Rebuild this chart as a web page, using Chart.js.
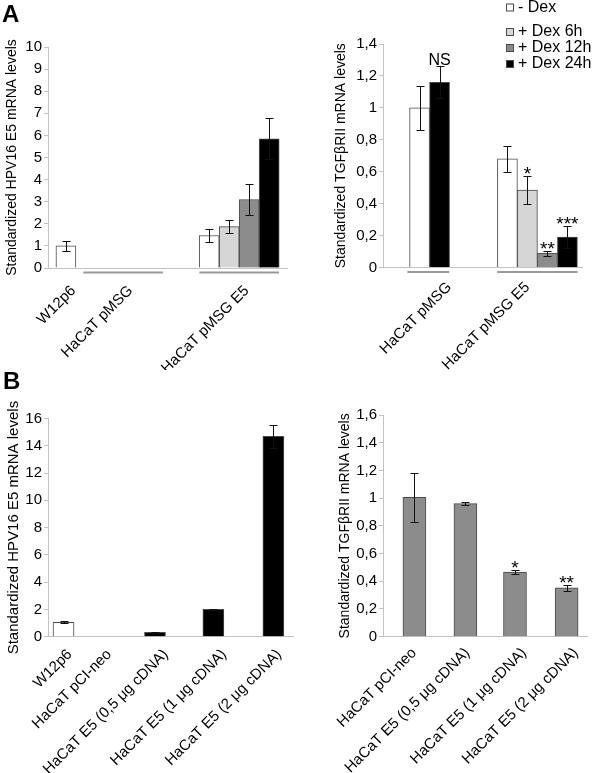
<!DOCTYPE html>
<html lang="en">
<head>
<meta charset="UTF-8">
<title>HPV16 E5 and TGFβRII mRNA levels</title>
<script src="https://cdn.jsdelivr.net/npm/chart.js@4.4.0/dist/chart.umd.min.js"></script>
<style>
  body { margin: 0; background: #fff; }
  #page { position: relative; width: 600px; height: 773px; overflow: hidden; font-family: 'Liberation Sans', Arial, sans-serif; }
  canvas { position: absolute; }
  .letter { position: absolute; font-weight: bold; font-size: 24px; line-height: 24px; }
</style>
</head>
<body>
<div id="page">
  <canvas id="aE5" style="left:0;top:0" width="300" height="370"></canvas>
  <canvas id="aTgf" style="left:300px;top:0" width="300" height="370"></canvas>
  <canvas id="bE5" style="left:0;top:370px" width="300" height="403"></canvas>
  <canvas id="bTgf" style="left:300px;top:370px" width="300" height="403"></canvas>
  <div class="letter" style="left:2px;top:2px">A</div>
  <div class="letter" style="left:3px;top:369px">B</div>
</div>
<script>
// ---- panel A : Dex time course ----
const dexLabels = ['- Dex', '+ Dex 6h', '+ Dex 12h', '+ Dex 24h'];

const aE5Cats = ['W12p6', 'HaCaT pMSG', 'HaCaT pMSG E5'];
const aE5NoDex = [1.0, 0, 1.47];
const aE5Dex6h = [null, null, 1.87];
const aE5Dex12h = [null, null, 3.1];
const aE5Dex24h = [null, 0, 5.85];
const aE5NoDexErr = [0.21, null, 0.3];
const aE5Dex6hErr = [null, null, 0.28];
const aE5Dex12hErr = [null, null, 0.7];
const aE5Dex24hErr = [null, null, 0.92];
const aE5YTicks = [0, 1, 2, 3, 4, 5, 6, 7, 8, 9, 10];

const aTgfCats = ['HaCaT pMSG', 'HaCaT pMSG E5'];
const aTgfNoDex = [1.0, 0.68];
const aTgfDex6h = [null, 0.485];
const aTgfDex12h = [null, 0.09];
const aTgfDex24h = [1.16, 0.19];
const aTgfNoDexErr = [0.14, 0.08];
const aTgfDex6hErr = [null, 0.09];
const aTgfDex12hErr = [null, 0.015];
const aTgfDex24hErr = [0.1, 0.07];
const aTgfDex6hSig = [null, '*'];
const aTgfDex12hSig = [null, '**'];
const aTgfDex24hSig = ['NS', '***'];
const aTgfYTicks = [0, 0.2, 0.4, 0.6, 0.8, 1, 1.2, 1.4];

// ---- panel B : cDNA dose ----
const bE5Cats = ['W12p6', 'HaCaT pCI-neo', 'HaCaT E5 (0,5 μg cDNA)', 'HaCaT E5 (1 μg cDNA)', 'HaCaT E5 (2 μg cDNA)'];
const bE5Values = [1.05, 0, 0.32, 2.0, 14.7];
const bE5Err = [0.07, null, 0.03, 0.06, 0.85];
const bE5YTicks = [0, 2, 4, 6, 8, 10, 12, 14, 16];

const bTgfCats = ['HaCaT pCI-neo', 'HaCaT E5 (0,5 μg cDNA)', 'HaCaT E5 (1 μg cDNA)', 'HaCaT E5 (2 μg cDNA)'];
const bTgfValues = [1.005, 0.96, 0.467, 0.352];
const bTgfErr = [0.175, 0.012, 0.016, 0.022];
const bTgfSig = [null, null, '*', '**'];
const bTgfYTicks = [0, 0.2, 0.4, 0.6, 0.8, 1, 1.2, 1.4, 1.6];

const e5Title = 'Standardized HPV16 E5 mRNA levels';
const tgfTitle = 'Standardized TGFβRII mRNA levels';

const fontFamily = "'Liberation Sans', Arial, sans-serif";
const dexColors = ['#ffffff', '#d6d6d6', '#8c8c8c', '#000000'];

Chart.defaults.font.family = fontFamily;
Chart.defaults.color = '#000';

function fmt(v) {
  return String(Math.round(v * 10) / 10).replace('.', ',');
}

// error bars + significance marks
const errorBars = {
  id: 'errorBars',
  afterDatasetsDraw(chart) {
    const ctx = chart.ctx;
    const y = chart.scales.y;
    chart.data.datasets.forEach((ds, di) => {
      const meta = chart.getDatasetMeta(di);
      meta.data.forEach((bar, i) => {
        const v = ds.data[i].y;
        const e = ds.errors ? ds.errors[i] : null;
        if (v == null || e == null) return;
        const x = Math.round(bar.x) + 0.5;
        const top = Math.round(y.getPixelForValue(v + e)) + 0.5;
        const bot = Math.round(y.getPixelForValue(v - e)) + 0.5;
        ctx.save();
        ctx.strokeStyle = '#111';
        ctx.lineWidth = 1;
        ctx.beginPath();
        ctx.moveTo(x, top); ctx.lineTo(x, bot);
        ctx.moveTo(x - 4, top); ctx.lineTo(x + 4, top);
        ctx.moveTo(x - 4, bot); ctx.lineTo(x + 4, bot);
        ctx.stroke();
        const sig = ds.sig ? ds.sig[i] : null;
        if (sig) {
          const stars = sig.charAt(0) === '*';
          ctx.fillStyle = '#000';
          ctx.textAlign = 'center';
          ctx.textBaseline = 'alphabetic';
          ctx.font = (stars ? '19px ' : '16px ') + fontFamily;
          ctx.fillText(sig, bar.x, top + (stars ? 3 : -2));
        }
        ctx.restore();
      });
    });
  }
};

// grey lines under each group of bars
const groupLines = {
  id: 'groupLines',
  afterDraw(chart, args, opts) {
    const ctx = chart.ctx, x = chart.scales.x;
    const yy = chart.chartArea.bottom + 4.5;
    ctx.save();
    ctx.strokeStyle = '#9a9a9a';
    ctx.lineWidth = 2;
    (opts.spans || []).forEach(s => {
      if (!s) return;
      ctx.beginPath();
      ctx.moveTo(x.getPixelForValue(s[0] - s[1]), yy);
      ctx.lineTo(x.getPixelForValue(s[0] + s[1]), yy);
      ctx.stroke();
    });
    ctx.restore();
  }
};

// stacked legend with small squares (panel A right)
const boxLegend = {
  id: 'boxLegend',
  afterDraw(chart, args, opts) {
    const ctx = chart.ctx;
    ctx.save();
    chart.data.datasets.forEach((ds, i) => {
      const y = opts.rows[i];
      ctx.fillStyle = ds.backgroundColor;
      ctx.fillRect(opts.x, y - 4, 8, 8);
      ctx.strokeStyle = '#4a4a4a';
      ctx.lineWidth = 1;
      ctx.strokeRect(opts.x + 0.5, y - 3.5, 7, 7);
      ctx.fillStyle = '#000';
      ctx.font = '16px ' + fontFamily;
      ctx.textBaseline = 'middle';
      ctx.fillText(ds.label, opts.x + 12, y);
    });
    ctx.restore();
  }
};

function makePanel(p) {
  const datasets = p.series.map(s => ({
    label: s.label,
    data: p.pos.map((x, i) => ({ x: x, y: s.values[i] })),
    errors: s.errors,
    sig: s.sig,
    backgroundColor: s.color,
    borderColor: '#4a4a4a',
    borderWidth: 1,
    barThickness: p.barWidth,
    skipNull: true
  }));
  const plugins = [errorBars, groupLines];
  if (p.legend) plugins.push(boxLegend);
  return new Chart(document.getElementById(p.id), {
    type: 'bar',
    data: { datasets: datasets },
    options: {
      responsive: false,
      animation: false,
      layout: { padding: { top: p.area.top, right: p.area.right, left: 0, bottom: 0 } },
      plugins: {
        legend: { display: false },
        tooltip: { enabled: false },
        groupLines: { spans: p.groups || [] },
        boxLegend: p.legend || {}
      },
      scales: {
        x: {
          type: 'linear',
          offset: false,
          min: 0,
          max: p.xMax,
          afterBuildTicks: s => { s.ticks = p.tickPos.map(v => ({ value: v })); },
          ticks: {
            autoSkip: false,
            minRotation: 45,
            maxRotation: 45,
            padding: p.labelPad,
            labelOffset: 7.5,
            font: { size: 15 },
            callback: (v, i) => p.cats[i]
          },
          grid: { display: false, drawTicks: false },
          border: { color: '#c2c2c2' },
          afterFit: s => { s.height = p.area.xAxis; }
        },
        y: {
          min: 0,
          max: p.yTicks[p.yTicks.length - 1],
          afterBuildTicks: s => { s.ticks = p.yTicks.map(v => ({ value: v })); },
          ticks: { padding: 2, font: { size: 15 }, callback: v => fmt(v) },
          grid: { drawOnChartArea: false, tickLength: 4, color: '#c2c2c2' },
          border: { color: '#c2c2c2' },
          title: { display: true, text: p.yTitle, font: { size: p.titleSize }, padding: { top: p.titlePad, bottom: 0 } },
          afterFit: s => { s.width = p.area.left; }
        }
      }
    },
    plugins: plugins
  });
}

makePanel({
  id: 'aE5', cats: aE5Cats, yTicks: aE5YTicks, yTitle: e5Title,
  pos: [0.9, 3.77, 9.6], tickPos: [0.9, 3.77, 9.6], xMax: 12, barWidth: 20,
  groups: [null, [3.77, 2], [9.6, 2]],
  area: { top: 47, right: 13, left: 48, xAxis: 102 }, labelPad: 14, titleSize: 14, titlePad: 4,
  series: [
    { label: dexLabels[0], values: aE5NoDex, errors: aE5NoDexErr, color: dexColors[0] },
    { label: dexLabels[1], values: aE5Dex6h, errors: aE5Dex6hErr, color: dexColors[1] },
    { label: dexLabels[2], values: aE5Dex12h, errors: aE5Dex12hErr, color: dexColors[2] },
    { label: dexLabels[3], values: aE5Dex24h, errors: aE5Dex24hErr, color: dexColors[3] }
  ]
});

makePanel({
  id: 'aTgf', cats: aTgfCats, yTicks: aTgfYTicks, yTitle: tgfTitle,
  pos: [2.34, 7.76], tickPos: [2.95, 6.88], xMax: 10, barWidth: 20,
  groups: [[2.28, 1.05], [7.76, 2.02]],
  area: { top: 44, right: 18, left: 83, xAxis: 102.5 }, labelPad: 11, titleSize: 14, titlePad: 33,
  legend: { x: 206, rows: [7.5, 32, 48, 64] },
  series: [
    { label: dexLabels[0], values: aTgfNoDex, errors: aTgfNoDexErr, color: dexColors[0] },
    { label: dexLabels[1], values: aTgfDex6h, errors: aTgfDex6hErr, sig: aTgfDex6hSig, color: dexColors[1] },
    { label: dexLabels[2], values: aTgfDex12h, errors: aTgfDex12hErr, sig: aTgfDex12hSig, color: dexColors[2] },
    { label: dexLabels[3], values: aTgfDex24h, errors: aTgfDex24hErr, sig: aTgfDex24hSig, color: dexColors[3] }
  ]
});

makePanel({
  id: 'bE5', cats: bE5Cats, yTicks: bE5YTicks, yTitle: e5Title,
  pos: [0.76, 2.63, 5.24, 8.1, 11.04], tickPos: [0.7, 2.63, 5.4, 8.26, 10.95], xMax: 12, barWidth: 21,
  area: { top: 48.5, right: 7, left: 48, xAxis: 136.3 }, labelPad: 9, titleSize: 15, titlePad: 5,
  series: [
    { label: 'E5', values: bE5Values, errors: bE5Err, color: ['#ffffff', '#000000', '#000000', '#000000', '#000000'] }
  ]
});

makePanel({
  id: 'bTgf', cats: bTgfCats, yTicks: bTgfYTicks, yTitle: tgfTitle,
  pos: [1.54, 4.04, 6.47, 9.0], tickPos: [1.16, 3.77, 6.55, 9.08], xMax: 10, barWidth: 23,
  area: { top: 45, right: 13, left: 83, xAxis: 136.3 }, labelPad: 7.5, titleSize: 14, titlePad: 37,
  series: [
    { label: 'TGFβRII', values: bTgfValues, errors: bTgfErr, sig: bTgfSig, color: '#8c8c8c' }
  ]
});
</script>
</body>
</html>
